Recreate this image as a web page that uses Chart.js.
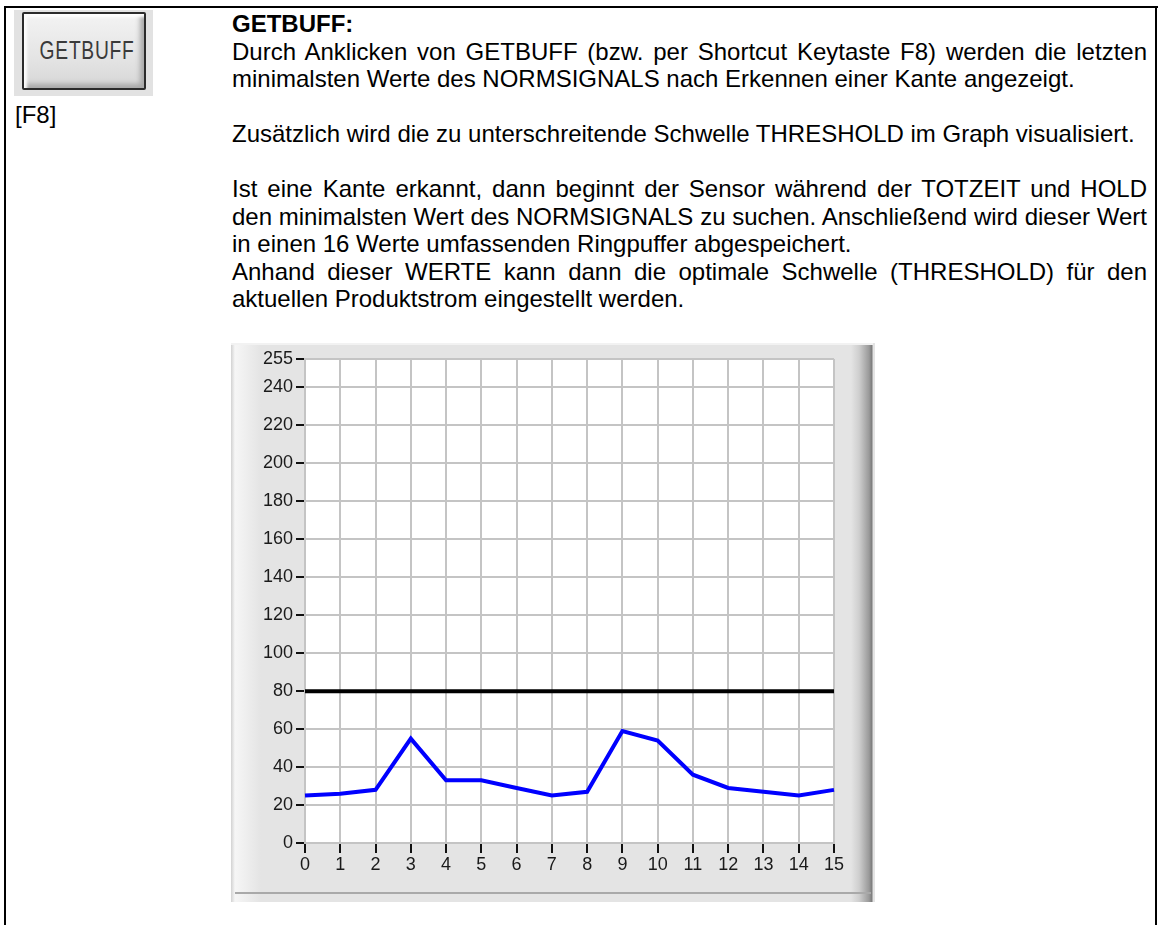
<!DOCTYPE html>
<html>
<head>
<meta charset="utf-8">
<script src="https://cdn.jsdelivr.net/npm/chart.js@4.4.1/dist/chart.umd.min.js"></script>
<style>
  html, body { margin: 0; padding: 0; background: #fff; }
  body { width: 1158px; height: 925px; position: relative; overflow: hidden;
         font-family: Arial, "Liberation Sans", sans-serif; color: #000; }
  .bTop { position: absolute; left: 4px; top: 6px; width: 1154px; height: 2px; background: #000; }
  .bLeft { position: absolute; left: 4px; top: 6px; width: 2px; height: 930px; background: #000; }
  .bRight { position: absolute; left: 1155px; top: 6px; width: 2px; height: 930px; background: #000; }
  .btnBg { position: absolute; left: 14px; top: 10px; width: 139px; height: 86px; background: #e2e2e2; }
  .btn { position: absolute; left: 22px; top: 12px; width: 120px; height: 74px;
         border: 2px solid #2b2b2b; border-radius: 2px;
         background: linear-gradient(#f3f3f3, #e4e4e4 60%, #d6d6d6);
         box-shadow: inset 3px 3px 3px #fdfdfd, inset -4px -4px 5px #a8a8a8; }
  .btn span { position: absolute; left: 0; right: 0; top: 21px; text-align: center;
              font-size: 26px; color: #3a3a3a; transform: scaleX(0.74); letter-spacing: 1px; }
  .f8 { position: absolute; left: 15px; top: 101px; font-size: 24px; line-height: 27.5px; }
  .txt { position: absolute; left: 232px; top: 10px; width: 915px; font-size: 24px; line-height: 27.5px; }
  .txt div { white-space: nowrap; height: 27.5px; }
  .txt .j { text-align: justify; text-align-last: justify; }
  .frame { position: absolute; left: 231px; top: 343px; width: 644px; height: 559px;
           background: linear-gradient(to right, #d2d2d2 0px, #f6f6f6 4px, #e4e4e4 30px, #e4e4e4 620px,
                       #cfcfcf 628px, #9a9a9a 638px, #7a7a7a 641px, #e4e4e4 642px); }
  .frameTop { position: absolute; left: 231px; top: 343px; width: 642px; height: 2px; background: #f2f2f2; }
  .frameBot { position: absolute; left: 235px; top: 892px; width: 636px; height: 2px; background: #a9a9a9; }
  .chartBox { position: absolute; left: 231px; top: 343px; width: 644px; height: 559px; }
</style>
</head>
<body>
<div class="bTop"></div><div class="bLeft"></div><div class="bRight"></div>

<div class="btnBg"></div>
<div class="btn"><span>GETBUFF</span></div>
<div class="f8">[F8]</div>

<div class="txt">
  <div><b>GETBUFF:</b></div>
  <div class="j">Durch Anklicken von GETBUFF (bzw. per Shortcut Keytaste F8) werden die letzten</div>
  <div>minimalsten Werte des NORMSIGNALS nach Erkennen einer Kante angezeigt.</div>
  <div></div>
  <div>Zusätzlich wird die zu unterschreitende Schwelle THRESHOLD im Graph visualisiert.</div>
  <div></div>
  <div class="j">Ist eine Kante erkannt, dann beginnt der Sensor während der TOTZEIT und HOLD</div>
  <div class="j">den minimalsten Wert des NORMSIGNALS zu suchen. Anschließend wird dieser Wert</div>
  <div>in einen 16 Werte umfassenden Ringpuffer abgespeichert.</div>
  <div class="j">Anhand dieser WERTE kann dann die optimale Schwelle (THRESHOLD) für den</div>
  <div>aktuellen Produktstrom eingestellt werden.</div>
</div>

<div class="frame"></div>
<div class="frameTop"></div>
<div class="frameBot"></div>
<div class="chartBox"><canvas id="buffChart"></canvas></div>

<script>
// Ringpuffer-Index und Werte
const xLabels = ['0', '1', '2', '3', '4', '5', '6', '7', '8', '9', '10', '11', '12', '13', '14', '15'];
const normMin = [25, 26, 28, 55, 33, 33, 29, 25, 27, 59, 54, 36, 29, 27, 25, 28];
const threshold = [80, 80, 80, 80, 80, 80, 80, 80, 80, 80, 80, 80, 80, 80, 80, 80];
const yTicks = [0, 20, 40, 60, 80, 100, 120, 140, 160, 180, 200, 220, 240, 255];

const tickFont = { family: 'Arial, "Liberation Sans", sans-serif', size: 18 };

// weisser Plotbereich
const plotBg = {
  id: 'plotBg',
  beforeDraw(chart) {
    const a = chart.chartArea, c = chart.ctx;
    c.save();
    c.fillStyle = '#ffffff';
    c.fillRect(a.left, a.top, a.right - a.left, a.bottom - a.top);
    c.restore();
  }
};

const ctx = document.getElementById('buffChart').getContext('2d');
new Chart(ctx, {
  type: 'line',
  data: {
    labels: xLabels,
    datasets: [
      { data: threshold, borderColor: '#000000', borderWidth: 4, pointRadius: 0, tension: 0 },
      { data: normMin, borderColor: '#0000ff', borderWidth: 4, pointRadius: 0, tension: 0 }
    ]
  },
  options: {
    responsive: true,
    maintainAspectRatio: false,
    animation: false,
    layout: { padding: { left: 0, top: 16, right: 41, bottom: 0 } },
    plugins: { legend: { display: false }, tooltip: { enabled: false } },
    scales: {
      x: {
        offset: false,
        grid: { color: '#c4c4c4', lineWidth: 2, tickLength: 10, tickColor: '#111', tickWidth: 2 },
        border: { color: '#c4c4c4', width: 2 },
        ticks: { font: tickFont, color: '#1a1a1a', padding: 1, maxRotation: 0, autoSkip: false },
        afterFit(scale) { scale.height = 59; }
      },
      y: {
        min: 0,
        max: 255,
        afterBuildTicks(scale) { scale.ticks = yTicks.map(v => ({ value: v })); },
        grid: { color: '#c4c4c4', lineWidth: 2, tickLength: 9, tickColor: '#111', tickWidth: 2 },
        border: { color: '#c4c4c4', width: 2 },
        ticks: { font: tickFont, color: '#1a1a1a', padding: 3 },
        afterFit(scale) { scale.width = 74; }
      }
    }
  },
  plugins: [plotBg]
});
</script>
</body>
</html>
